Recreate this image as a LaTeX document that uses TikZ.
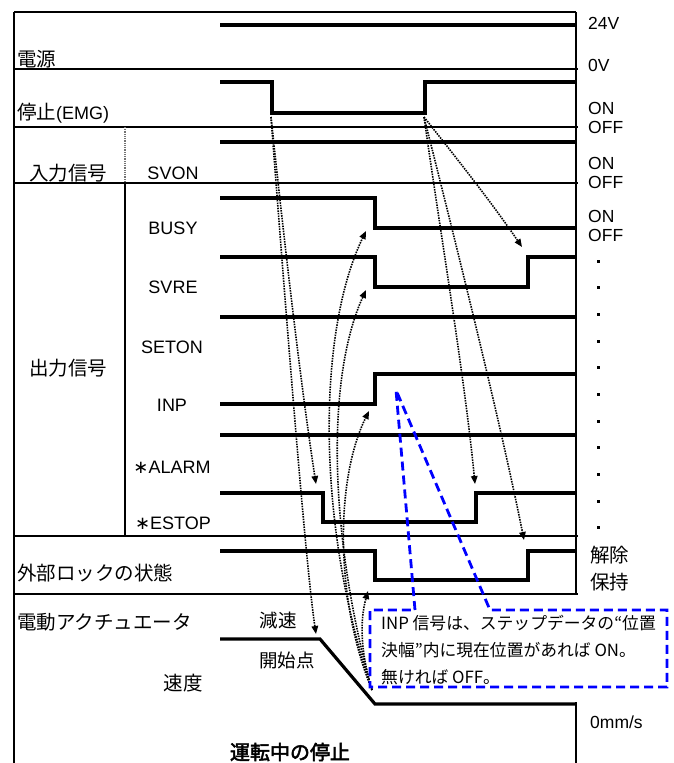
\documentclass[tikz,border=0pt]{standalone}
\usepackage{fontspec}
\setmainfont{Liberation Sans}
\newfontfamily\jp{Noto Sans CJK JP}
\newfontfamily\jpbold[FakeBold=2.5]{Noto Sans CJK JP}
\newfontfamily\dvs{DejaVu Sans}
\usetikzlibrary{arrows.meta}
\begin{document}
\begin{tikzpicture}[x=1pt,y=-1pt,
  sig/.style={line width=4pt, line join=miter, line cap=butt},
  frm/.style={line width=1.5pt},
  spd/.style={line width=3.2pt, line join=miter},
  cause/.style={line width=1.6pt, dash pattern=on 1.5pt off 1.1pt, -{Triangle[length=8pt,width=6.5pt]}},
  lab/.style={font=\fontsize{18}{20}\selectfont, inner sep=0pt},
  jlab/.style={font=\jp\fontsize{19.5}{22}\selectfont, inner sep=0pt},
  rlab/.style={font=\fontsize{17.5}{20}\selectfont, anchor=west, inner sep=0pt},
  jrlab/.style={font=\jp\fontsize{19.5}{22}\selectfont, anchor=west, inner sep=0pt},
  dotm/.style={fill=black, minimum size=3pt, inner sep=0pt},
  callout/.style={draw=blue, line width=2.8pt, dash pattern=on 9pt off 5pt, line join=miter},
  ctext/.style={font=\jp\fontsize{16.8}{20}\selectfont, anchor=west, inner sep=0pt}
]
\useasboundingbox (0,0) rectangle (673,763);

% frame
\draw[frm] (14,763) -- (14,12);
\draw[line width=2pt] (14,12) -- (576,12);
\draw[frm] (576,12) -- (576,594);
\draw[frm] (576,702) -- (576,763);
\foreach \yy in {69,127,183,536,594} \draw[frm] (14,\yy) -- (578,\yy);
\draw[line width=1.6pt, black!55, dash pattern=on 1pt off 0.8pt] (125,127) -- (125,183);
\draw[frm] (125,183) -- (125,536);

% signals
\draw[sig] (220,25) -- (576,25);
\draw[sig] (220,82) -- (272,82) -- (272,113) -- (425,113) -- (425,82) -- (576,82);
\draw[sig] (220,142) -- (576,142);
\draw[sig] (220,198) -- (375,198) -- (375,228) -- (576,228);
\draw[sig] (220,257) -- (375,257) -- (375,287) -- (528,287) -- (528,257) -- (576,257);
\draw[sig] (220,317) -- (576,317);
\draw[sig] (220,404) -- (375,404) -- (375,374) -- (576,374);
\draw[sig] (220,435) -- (576,435);
\draw[sig] (220,493) -- (323,493) -- (323,522) -- (476,522) -- (476,493) -- (576,493);
\draw[sig] (220,551) -- (375,551) -- (375,580) -- (528,580) -- (528,551) -- (576,551);
\draw[spd] (220,639) -- (320,639) -- (375,704) -- (576,704);

% left labels
\node[jlab, anchor=west] (dengen) at (17,59) {電源};
\node[lab, anchor=west] (emg) at (17,113) {{\jp\fontsize{19.5}{22}\selectfont 停止}(EMG)};
\node[jlab] (nyu) at (68,173) {入力信号};
\node[lab] (svon) at (173,173) {SVON};
\node[jlab] (shutsu) at (68,368) {出力信号};
\node[lab] (busy) at (173,228) {BUSY};
\node[lab] (svre) at (173,287) {SVRE};
\node[lab] (seton) at (172,347) {SETON};
\node[lab] (inp) at (172,405) {INP};
\node[lab] (alarm) at (172,467) {{\dvs ∗}ALARM};
\node[lab] (estop) at (173,523) {{\dvs ∗}ESTOP};
\node[jlab, anchor=west] (lock) at (17,573) {外部ロックの状態};
\node[jlab, anchor=west] (act) at (17,622) {電動アクチュエータ};
\node[jlab, font=\jp\fontsize{18.5}{20}\selectfont] (gensoku) at (278,620) {減速};
\node[jlab, font=\jp\fontsize{18.5}{20}\selectfont] (kaishi) at (287,660) {開始点};
\node[jlab] (sokudo) at (183,683) {速度};
\node[inner sep=0pt, font=\jpbold\fontsize{20}{22}\selectfont] (title) at (290,752) {運転中の停止};

% right labels
\node[rlab] (v24) at (588,23) {24V};
\node[rlab] (v0) at (588,65) {0V};
\node[rlab] (on1) at (588,108) {ON};
\node[rlab] (off1) at (588,127) {OFF};
\node[rlab] (on2) at (588,163) {ON};
\node[rlab] (off2) at (588,182) {OFF};
\node[rlab] (on3) at (588,216) {ON};
\node[rlab] (off3) at (588,235) {OFF};
\foreach \yy [count=\i] in {261,287,314,341,367,394,421,447,474,501,527}
  \node[dotm] (dot\i) at (598,\yy) {};
\node[jrlab] (kaijo) at (590,555) {解除};
\node[jrlab] (hoji) at (590,582) {保持};
\node[rlab] (zero) at (590,722) {0mm/s};

% event points
\coordinate (emgF) at (271,117);
\coordinate (emgR) at (424,117);
\coordinate (stop) at (372,690);
\coordinate (estopF) at (316,484);
\coordinate (decel) at (316,634);
\coordinate (busyF) at (366,231);
\coordinate (svreF) at (366,290);
\coordinate (inpR) at (369,411);
\coordinate (lockF) at (368,591);
\coordinate (svreR) at (522,247);
\coordinate (estopR) at (475,484);
\coordinate (lockR) at (524,540);

% cause arrows
\draw[cause] (emgF) .. controls (283,230) and (300,380) .. (estopF);
\draw[cause] (emgF) .. controls (285,300) and (305,560) .. (decel);
\draw[cause] (stop) .. controls (315,520) and (318,330) .. (busyF);
\draw[cause] (stop) .. controls (330,540) and (325,380) .. (svreF);
\draw[cause] (stop) .. controls (335,600) and (335,480) .. (inpR);
\draw[cause] (stop) .. controls (360,650) and (360,620) .. (lockF);
\draw[cause] (emgR) .. controls (450,150) and (490,200) .. (svreR);
\draw[cause] (emgR) .. controls (440,230) and (465,380) .. (estopR);
\draw[cause] (emgR) .. controls (455,240) and (500,420) .. (lockR);

% callout
\fill[white] (370,610) rectangle (667,687);
\coordinate (apex) at (396,390);
\draw[callout] (415,610) -- (apex) -- (490,610) -- (667,610) -- (667,687) -- (370,687) -- (370,610) -- cycle;
\node[ctext] (c1) at (381,623) {INP 信号は、ステップデータの“位置};
\node[ctext] (c2) at (381,650) {決幅”内に現在位置があれば ON。};
\node[ctext] (c3) at (381,677) {無ければ OFF。};
\end{tikzpicture}
\end{document}
